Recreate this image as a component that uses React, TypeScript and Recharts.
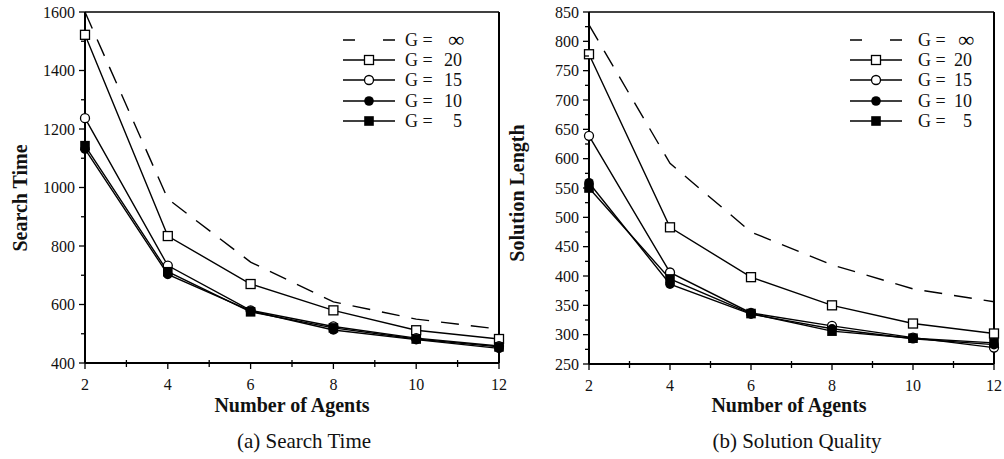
import { LineChart, Line, XAxis, YAxis, ReferenceLine } from "recharts";

const FONT = '"Liberation Serif", "Times New Roman", serif';
const INK = "#111";

// x values
const agents = [2, 4, 6, 8, 10, 12];
const agentMajor = [2, 4, 6, 8, 10, 12];
const agentMinor = [3, 5, 7, 9, 11];

// (a) search time
const timeInf = [1600, 961, 745, 609, 550, 516];
const time20 = [1522, 834, 670, 580, 512, 482];
const time15 = [1237, 733, 580, 525, 485, 458];
const time10 = [1131, 703, 578, 513, 480, 450];
const time5 = [1143, 712, 575, 520, 482, 455];
const timeMajor = [400, 600, 800, 1000, 1200, 1400, 1600];
const timeMinor = [500, 700, 900, 1100, 1300, 1500];

// (b) solution length
const lenInf = [828, 592, 475, 419, 378, 356];
const len20 = [778, 483, 398, 350, 319, 302];
const len15 = [639, 406, 337, 315, 295, 278];
const len10 = [559, 386, 335, 310, 293, 283];
const len5 = [550, 395, 336, 306, 294, 286];
const lenMajor = [250, 300, 350, 400, 450, 500, 550, 600, 650, 700, 750, 800, 850];
const lenMinor = [275, 325, 375, 425, 475, 525, 575, 625, 675, 725, 775, 825];

const legendLabels = ["∞", "20", "15", "10", "5"];

const timeData = agents.map((a, i) => ({
  agents: a, inf: timeInf[i], g20: time20[i], g15: time15[i], g10: time10[i], g5: time5[i],
}));
const lenData = agents.map((a, i) => ({
  agents: a, inf: lenInf[i], g20: len20[i], g15: len15[i], g10: len10[i], g5: len5[i],
}));

type Marker = "none" | "sqOpen" | "ciOpen" | "ciFill" | "sqFill";

function drawMarker(kind: Marker, cx: number, cy: number, key?: any) {
  if (kind === "sqOpen")
    return <rect key={key} x={cx - 4.5} y={cy - 4.5} width={9} height={9} fill="#fff" stroke="#000" strokeWidth={1.3} />;
  if (kind === "ciOpen")
    return <circle key={key} cx={cx} cy={cy} r={4.5} fill="#fff" stroke="#000" strokeWidth={1.3} />;
  if (kind === "ciFill")
    return <circle key={key} cx={cx} cy={cy} r={4.8} fill="#000" />;
  if (kind === "sqFill")
    return <rect key={key} x={cx - 4.8} y={cy - 4.8} width={9.6} height={9.6} fill="#000" />;
  return <g key={key} />;
}

const series: { key: string; marker: Marker; dash?: string }[] = [
  { key: "inf", marker: "none", dash: "18 12" },
  { key: "g20", marker: "sqOpen" },
  { key: "g15", marker: "ciOpen" },
  { key: "g10", marker: "ciFill" },
  { key: "g5", marker: "sqFill" },
];

function makeYTick(major: number[]) {
  return (props: any) => {
    const { x, y, payload } = props;
    const isMajor = major.includes(payload.value);
    return (
      <g>
        <line x1={x} x2={x - (isMajor ? 6 : 4)} y1={y} y2={y} stroke="#000" strokeWidth={1.3} />
        {isMajor && (
          <text x={x - 10} y={y} dy="0.36em" textAnchor="end" fontSize={16} fontFamily={FONT} fill={INK}>
            {payload.value}
          </text>
        )}
      </g>
    );
  };
}

function XTick(props: any) {
  const { x, y, payload } = props;
  const isMajor = agentMajor.includes(payload.value);
  return (
    <g>
      <line x1={x} x2={x} y1={isMajor ? y : y - 3} y2={y + (isMajor ? 6 : 4)} stroke="#000" strokeWidth={1.3} />
      {isMajor && (
        <text x={x} y={y + 16} dy="0.7em" textAnchor="middle" fontSize={16} fontFamily={FONT} fill={INK}>
          {payload.value}
        </text>
      )}
    </g>
  );
}

function Panel(props: {
  data: any[]; domain: [number, number]; major: number[]; minor: number[];
  width: number; margin: { top: number; right: number; bottom: number; left: number };
}) {
  const { data, domain, major, minor, width, margin } = props;
  const yTicks = [...major, ...minor].sort((a, b) => a - b);
  return (
    <LineChart width={width} height={459} data={data} margin={margin}>
      <XAxis
        dataKey="agents" type="number" domain={[2, 12]}
        ticks={[...agentMajor, ...agentMinor].sort((a, b) => a - b)}
        tick={XTick} tickLine={false} tickSize={0} tickMargin={0} height={30}
        axisLine={{ stroke: "#000", strokeWidth: 2 }} interval={0}
      />
      <YAxis
        type="number" domain={domain} ticks={yTicks} interval={0}
        tick={makeYTick(major)} tickLine={false} tickSize={0} tickMargin={0} width={60}
        axisLine={{ stroke: "#000", strokeWidth: 2 }}
      />
      <ReferenceLine y={domain[1]} stroke="#000" strokeWidth={1.5} />
      <ReferenceLine x={12} stroke="#000" strokeWidth={2} />
      {series.map((s) => (
        <Line
          key={s.key} dataKey={s.key} stroke="#000" strokeWidth={1.4}
          strokeDasharray={s.dash} isAnimationActive={false}
          dot={(p: any) => drawMarker(s.marker, p.cx, p.cy, p.key ?? `${s.key}-${p.index}`)}
          activeDot={false}
        />
      ))}
    </LineChart>
  );
}

function LegendBlock({ x0, textX, numEnd }: { x0: number; textX: number; numEnd: number }) {
  const rows = [40, 60, 80, 101, 121];
  const markers: Marker[] = ["none", "sqOpen", "ciOpen", "ciFill", "sqFill"];
  return (
    <g>
      {legendLabels.map((lab, i) => {
        const y = rows[i];
        return (
          <g key={lab}>
            <line x1={x0} x2={x0 + 52} y1={y} y2={y} stroke="#000" strokeWidth={1.5}
              strokeDasharray={i === 0 ? "12 28" : undefined} />
            {drawMarker(markers[i], x0 + 26, y)}
            <text x={textX} y={y} dy="0.35em" fontSize={18} fontFamily={FONT} fill={INK}>G =</text>
            {i === 0 ? (
              <text x={numEnd + 2} y={y} dy="0.33em" textAnchor="end" fontSize={22} fontWeight="bold" fontFamily={FONT} fill="#000">∞</text>
            ) : (
              <text x={numEnd} y={y} dy="0.35em" textAnchor="end" fontSize={18} fontFamily={FONT} fill={INK}>{lab}</text>
            )}
          </g>
        );
      })}
    </g>
  );
}

export default function App() {
  return (
    <div style={{ position: "absolute", left: 0, top: 0, width: 1004, height: 459, background: "#fff" }}>
      <div style={{ position: "absolute", left: 0, top: 0 }}>
        <Panel data={timeData} domain={[400, 1600]} major={timeMajor} minor={timeMinor}
          width={510} margin={{ top: 12, right: 11, bottom: 66, left: 25 }} />
      </div>
      <div style={{ position: "absolute", left: 500, top: 0 }}>
        <Panel data={lenData} domain={[250, 850]} major={lenMajor} minor={lenMinor}
          width={504} margin={{ top: 12, right: 10, bottom: 65, left: 29 }} />
      </div>
      <svg width={1004} height={459} style={{ position: "absolute", left: 0, top: 0, pointerEvents: "none" }}>
        <LegendBlock x0={343} textX={405} numEnd={462} />
        <LegendBlock x0={850} textX={918} numEnd={972} />
        <text x={27} y={198} transform="rotate(-90 27 198)" textAnchor="middle" fontSize={20} fontWeight="bold" fontFamily={FONT} fill={INK}>Search Time</text>
        <text x={524} y={193} transform="rotate(-90 524 193)" textAnchor="middle" fontSize={20} fontWeight="bold" fontFamily={FONT} fill={INK}>Solution Length</text>
        <text x={292} y={412} textAnchor="middle" fontSize={20} fontWeight="bold" fontFamily={FONT} fill={INK}>Number of Agents</text>
        <text x={789} y={412} textAnchor="middle" fontSize={20} fontWeight="bold" fontFamily={FONT} fill={INK}>Number of Agents</text>
        <text x={304} y={448} textAnchor="middle" fontSize={21} fontFamily={FONT} fill={INK}>(a) Search Time</text>
        <text x={797} y={448} textAnchor="middle" fontSize={21} fontFamily={FONT} fill={INK}>(b) Solution Quality</text>
      </svg>
    </div>
  );
}
